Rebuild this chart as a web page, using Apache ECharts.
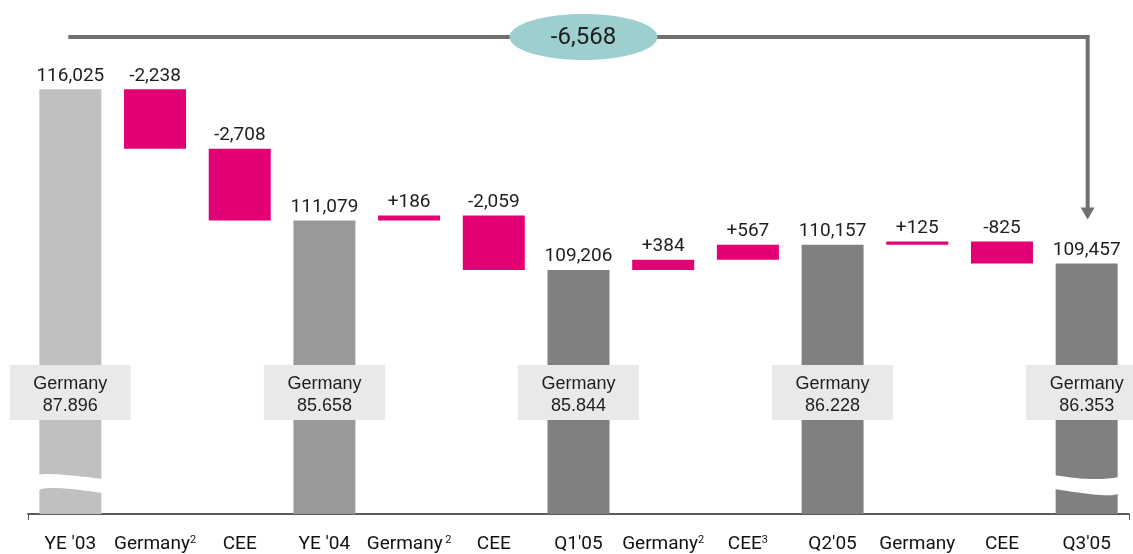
<!DOCTYPE html>
<html>
<head>
<meta charset="utf-8">
<script src="https://cdn.jsdelivr.net/npm/echarts@6/dist/echarts.min.js"></script>
<style>
html,body{margin:0;padding:0;background:#fff;}
#c{width:1133px;height:554px;}
</style>
</head>
<body>
<div id="c"></div>
<script>
// ---- data ----
const categories = ["YE '03", "Germany", "CEE", "YE '04", "Germany", "CEE", "Q1'05", "Germany", "CEE", "Q2'05", "Germany", "CEE", "Q3'05"];
const footnotes = ["", "2", "", "", " 2", "", "", "2", "3", "", "", "", ""];
const totals = [116025, null, null, 111079, null, null, 109206, null, null, 110157, null, null, 109457];
const deltas = [null, -2238, -2708, null, 186, -2059, null, 384, 567, null, 125, -825, null];
const germanyShares = ["87.896", "85.658", "85.844", "86.228", "86.353"];
const breakBars = [0, 12];
const totalChange = -6568;

// ---- styles ----
const Y_MIN = 100000, Y_MAX = 118000;
const LBL = 'Roboto, "Liberation Sans", sans-serif';
const REG = '"Liberation Sans", Arial, sans-serif';
const MAGENTA = '#e20074';
const totalColors = ['#c0c0c0', '#999999', '#808080', '#808080', '#808080'];
// wave shapes (pixel offsets: [fraction of bar width, px above axis])
const waveShapes = [
  { top: [[0, 37], [0.2, 40], [1, 35]], bot: [[1, 21], [0.28, 26], [0, 23]] },
  { top: [[0, 39], [0.55, 35], [1, 37]], bot: [[1, 21], [0.72, 19], [0, 25]] }
];

function fmt(n) { return String(Math.abs(n)).replace(/\B(?=(\d{3})+(?!\d))/g, ','); }

// waterfall construction
const baseData = [], valData = [], labels = [], totalIdx = [];
let running = 0, tCount = 0;
for (let i = 0; i < categories.length; i++) {
  if (totals[i] != null) {
    running = totals[i];
    baseData.push(0);
    valData.push({ value: totals[i], itemStyle: { color: totalColors[tCount++] } });
    labels.push(fmt(totals[i]));
    totalIdx.push(i);
  } else {
    const d = deltas[i];
    const start = running, end = running + d;
    baseData.push(Math.min(start, end));
    valData.push({ value: Math.abs(d), itemStyle: { color: MAGENTA } });
    labels.push((d > 0 ? '+' : '-') + fmt(d));
    running = end;
  }
}
const lastIdx = categories.length - 1;
const lastTotal = totals[lastIdx];

const chart = echarts.init(document.getElementById('c'), null, { renderer: 'canvas' });

const option = {
  animation: false,
  backgroundColor: '#ffffff',
  grid: { left: 28, right: 4, top: 37, bottom: 40, containLabel: false, outerBoundsMode: 'none' },
  xAxis: {
    type: 'category',
    data: categories,
    axisLine: { show: true, lineStyle: { color: '#5a5a5a', width: 2 } },
    axisTick: { show: true, interval: (i) => i === 0, length: 6, lineStyle: { color: '#5a5a5a', width: 1 } },
    axisLabel: {
      interval: 0,
      margin: 21,
      color: '#111111',
      fontFamily: LBL,
      fontSize: 19,
      formatter: (v, i) => footnotes[i] ? v + '{s|' + footnotes[i] + '}' : v,
      rich: { s: { fontFamily: LBL, fontSize: 11, color: '#111111', verticalAlign: 'top', padding: [0, 0, 8, 0] } }
    },
    splitLine: { show: false }
  },
  yAxis: {
    type: 'value', min: Y_MIN, max: Y_MAX, show: false, splitLine: { show: false }
  },
  series: [
    {
      type: 'bar', stack: 'w', data: baseData, barWidth: 62, silent: true,
      itemStyle: { color: 'rgba(0,0,0,0)' }
    },
    {
      type: 'bar', stack: 'w', data: valData, barWidth: 62, z: 2,
      label: {
        show: true, position: 'top', distance: 4,
        formatter: (p) => labels[p.dataIndex],
        fontFamily: LBL, fontSize: 19, color: '#1e1e1e'
      }
    },
    {
      // wavy axis-break marks
      type: 'custom', z: 5, silent: true,
      data: breakBars.map(i => [i, Y_MIN]),
      renderItem: function (params, api) {
        const p = api.coord([api.value(0), Y_MIN]);
        const cx = p[0], yb = p[1];
        const x0 = cx - 32, w = 64;
        const sh = waveShapes[params.dataIndex];
        const P = (q) => [x0 + q[0] * w, yb - q[1]];
        function quad(a, b, c, n) {
          const pts = [];
          const cxp = 2 * b[0] - (a[0] + c[0]) / 2, cyp = 2 * b[1] - (a[1] + c[1]) / 2;
          for (let k = 0; k <= n; k++) {
            const t = k / n;
            pts.push([(1 - t) * (1 - t) * a[0] + 2 * (1 - t) * t * cxp + t * t * c[0],
                      (1 - t) * (1 - t) * a[1] + 2 * (1 - t) * t * cyp + t * t * c[1]]);
          }
          return pts;
        }
        const pts = quad(P(sh.top[0]), P(sh.top[1]), P(sh.top[2]), 20)
          .concat(quad(P(sh.bot[0]), P(sh.bot[1]), P(sh.bot[2]), 20));
        return { type: 'polygon', shape: { points: pts }, style: { fill: '#ffffff' } };
      }
    },
    {
      // Germany share boxes
      type: 'custom', z: 6, silent: true,
      data: totalIdx.map((ci, k) => ({ value: [ci, Y_MIN], name: germanyShares[k] })),
      renderItem: function (params, api) {
        const p = api.coord([api.value(0), Y_MIN]);
        const cx = p[0], top = p[1] - 149;
        return {
          type: 'group',
          children: [
            { type: 'rect', shape: { x: cx - 60.5, y: top, width: 121, height: 55 }, style: { fill: '#e9e9e9' } },
            { type: 'text', style: {
                text: 'Germany\n' + germanyShares[params.dataIndex],
                x: cx, y: top + 30, align: 'center', verticalAlign: 'middle',
                fontFamily: REG, fontSize: 18, lineHeight: 22, fill: '#1e1e1e'
            } }
          ]
        };
      }
    },
    {
      // bracket with total change
      type: 'custom', z: 7, silent: true,
      data: [[0, Y_MAX]],
      renderItem: function (params, api) {
        const a = api.coord([0, Y_MAX]);
        const b = api.coord([lastIdx, Y_MAX]);
        const t = api.coord([lastIdx, lastTotal]);
        const m = api.coord([6, Y_MAX]);
        const y = a[1];
        const tipY = t[1] - 44;
        const xa = a[0] - 2, xb = b[0] + 1;
        const ex = m[0] + 5;
        return {
          type: 'group',
          children: [
            { type: 'polyline', shape: { points: [[xa, y], [xb, y], [xb, tipY - 10]] },
              style: { stroke: '#707070', lineWidth: 4, fill: null, lineJoin: 'miter' } },
            { type: 'polygon', shape: { points: [[xb - 7, tipY - 12], [xb + 7, tipY - 12], [xb, tipY]] },
              style: { fill: '#707070' } },
            { type: 'ellipse', shape: { cx: ex, cy: y, rx: 74, ry: 23 }, style: { fill: '#9dcfcf' } },
            { type: 'text', style: {
                text: (totalChange < 0 ? '-' : '+') + fmt(totalChange),
                x: ex, y: y + 1, align: 'center', verticalAlign: 'middle',
                fontFamily: LBL, fontSize: 24, fill: '#1e1e1e'
            } }
          ]
        };
      }
    }
  ]
};
chart.setOption(option);
</script>
</body>
</html>
